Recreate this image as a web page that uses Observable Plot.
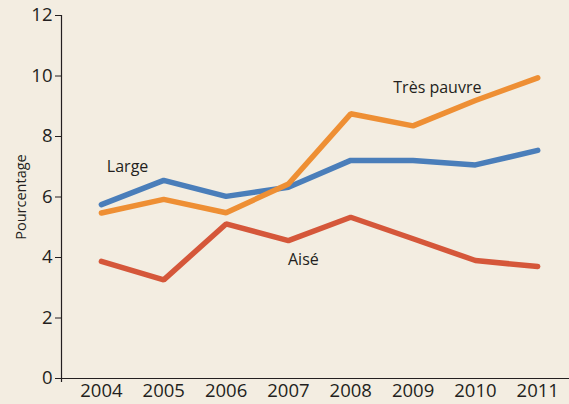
<!DOCTYPE html>
<html><head><meta charset="utf-8">
<script src="https://cdn.jsdelivr.net/npm/d3@7"></script>
<script src="https://cdn.jsdelivr.net/npm/@observablehq/plot@0.6"></script>
<style>
html,body{margin:0;padding:0;background:#f3ede1;overflow:hidden;}
svg{display:block;}
</style></head><body><div id="chart"></div>
<script>
const years = [2004, 2005, 2006, 2007, 2008, 2009, 2010, 2011];
const large = [5.75, 6.55, 6.02, 6.32, 7.21, 7.21, 7.06, 7.54];
const tresPauvre = [5.47, 5.92, 5.48, 6.43, 8.75, 8.35, 9.19, 9.94];
const aise = [3.87, 3.26, 5.11, 4.56, 5.33, 4.62, 3.90, 3.70];
const seriesNames = ["Large", "Très pauvre", "Aisé"];
const yTicks = [0, 2, 4, 6, 8, 10, 12];
const labelX = [2004.42, 2009.39, 2007.24];
const labelY = [7.0, 9.62, 3.93];

const colors = {"Large": "#4a7eba", "Très pauvre": "#ee8f34", "Aisé": "#d5573a"};
const seriesValues = [large, tresPauvre, aise];
const rows = [];
seriesNames.forEach((name, i) => years.forEach((yr, j) => rows.push({series: name, year: yr, value: seriesValues[i][j]})));
const labels = seriesNames.map((name, i) => ({name, x: labelX[i], y: labelY[i]}));
const xDomain = [2003.36, 2011.51];

const font = "'Open Sans', sans-serif";
const chart = Plot.plot({
  width: 569,
  height: 404,
  marginLeft: 61,
  marginRight: 0,
  marginTop: 15,
  marginBottom: 26,
  style: {background: "#f3ede1", fontFamily: font, color: "#231f20", overflow: "visible"},
  x: {type: "linear", domain: xDomain},
  y: {domain: [0, 12]},
  marks: [
    Plot.axisY({ticks: yTicks, tickSize: 6, tickPadding: 3, fontSize: 18.5, label: "Pourcentage", labelAnchor: "center", labelArrow: "none", labelOffset: 46}),
    Plot.axisX({ticks: years, tickFormat: d => String(d), tickSize: 0, tickPadding: 5, fontSize: 18.5, label: null}),
    Plot.ruleY([0], {stroke: "#231f20", strokeWidth: 1.2}),
    Plot.ruleX([xDomain[0]], {y1: -0.13, y2: 12, stroke: "#231f20", strokeWidth: 1.2}),
    Plot.line(rows, {x: "year", y: "value", z: "series", stroke: d => colors[d.series], strokeWidth: 5.5, strokeLinecap: "round", strokeLinejoin: "miter"}),
    Plot.text(labels, {x: "x", y: "y", text: "name", fontSize: 16, fill: "#231f20"})
  ]
});
chart.querySelectorAll("g[aria-label='y-axis label'] text").forEach(t => t.setAttribute("font-size", 14.5));
document.getElementById("chart").appendChild(chart);
</script></body></html>
